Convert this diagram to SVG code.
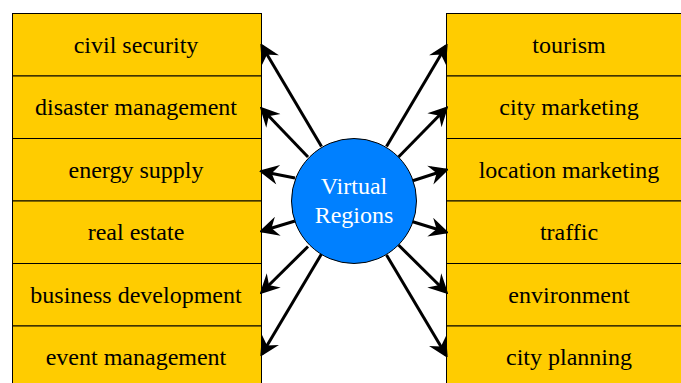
<svg xmlns="http://www.w3.org/2000/svg" width="681" height="383" viewBox="0 0 681 383">
<style>
.box{fill:#FFCC00;stroke:#000;stroke-width:1}
.lbl{font-family:"Liberation Serif","Times New Roman",serif;font-size:24px;fill:#000;text-anchor:middle}
.hub{fill:#0080FF;stroke:#000;stroke-width:1}
.hubt{font-family:"Liberation Serif","Times New Roman",serif;font-size:24px;fill:#fff;text-anchor:middle}
.arr{stroke:#000;stroke-width:3;fill:none;marker-end:url(#ah)}
</style>
<defs>
<marker id="ah" markerUnits="userSpaceOnUse" markerWidth="20" markerHeight="20" viewBox="-14 -8 16 16" refX="0" refY="0" orient="auto">
<path d="M1,0 L-11,-6 L-7,0 L-11,6 Z" fill="#000" stroke="#000" stroke-width="1.5" stroke-linejoin="miter"/>
</marker>
</defs>
<rect x="0" y="0" width="681" height="383" fill="#fff"/>
<g id="civil-security"><rect class="box" x="12.5" y="13.5" width="249" height="62.5"/><text class="lbl" x="136" y="52.5">civil security</text></g>
<g id="disaster-management"><rect class="box" x="12.5" y="76" width="249" height="62.5"/><text class="lbl" x="136" y="115">disaster management</text></g>
<g id="energy-supply"><rect class="box" x="12.5" y="138.5" width="249" height="62.5"/><text class="lbl" x="136" y="177.5">energy supply</text></g>
<g id="real-estate"><rect class="box" x="12.5" y="201" width="249" height="62.5"/><text class="lbl" x="136" y="240">real estate</text></g>
<g id="business-development"><rect class="box" x="12.5" y="263.5" width="249" height="62.5"/><text class="lbl" x="136" y="302.5">business development</text></g>
<g id="event-management"><rect class="box" x="12.5" y="326" width="249" height="62.5"/><text class="lbl" x="136" y="365">event management</text></g>
<g id="tourism"><rect class="box" x="446.5" y="13.5" width="250" height="62.5"/><text class="lbl" x="569" y="52.5">tourism</text></g>
<g id="city-marketing"><rect class="box" x="446.5" y="76" width="250" height="62.5"/><text class="lbl" x="569" y="115">city marketing</text></g>
<g id="location-marketing"><rect class="box" x="446.5" y="138.5" width="250" height="62.5"/><text class="lbl" x="569" y="177.5">location marketing</text></g>
<g id="traffic"><rect class="box" x="446.5" y="201" width="250" height="62.5"/><text class="lbl" x="569" y="240">traffic</text></g>
<g id="environment"><rect class="box" x="446.5" y="263.5" width="250" height="62.5"/><text class="lbl" x="569" y="302.5">environment</text></g>
<g id="city-planning"><rect class="box" x="446.5" y="326" width="250" height="62.5"/><text class="lbl" x="569" y="365">city planning</text></g>
<g id="connectors">
<line class="arr" x1="321.5" y1="146.5" x2="262" y2="46"/>
<line class="arr" x1="308" y1="157" x2="262" y2="109"/>
<line class="arr" x1="295" y1="178" x2="262" y2="171.5"/>
<line class="arr" x1="295" y1="221" x2="262" y2="231"/>
<line class="arr" x1="308" y1="246.5" x2="262" y2="292"/>
<line class="arr" x1="321.5" y1="254" x2="262" y2="354"/>
<line class="arr" x1="386.5" y1="146.5" x2="446" y2="46"/>
<line class="arr" x1="398.5" y1="157" x2="446" y2="108.5"/>
<line class="arr" x1="412" y1="181" x2="446" y2="170"/>
<line class="arr" x1="412" y1="221.5" x2="446" y2="232"/>
<line class="arr" x1="398.5" y1="245" x2="446" y2="292"/>
<line class="arr" x1="386.5" y1="255" x2="446" y2="355"/>
</g>
<g id="virtual-regions"><circle class="hub" cx="354" cy="201" r="62.5"/><text class="hubt" x="354" y="193.5">Virtual</text><text class="hubt" x="354" y="222.5">Regions</text></g>
</svg>
